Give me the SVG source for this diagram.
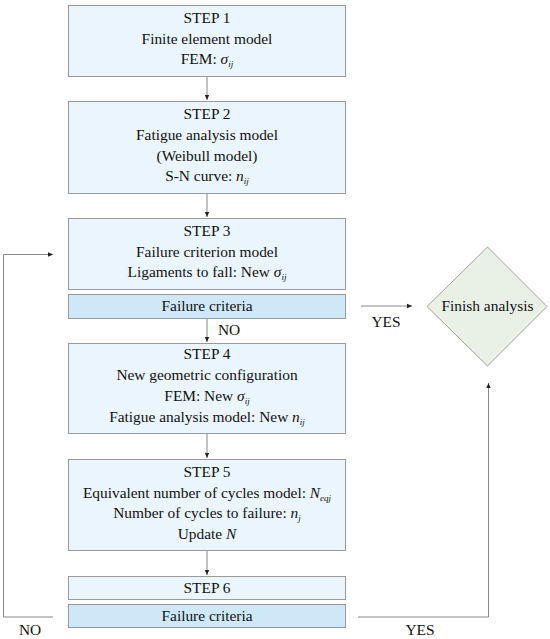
<svg xmlns="http://www.w3.org/2000/svg" width="550" height="639" viewBox="0 0 550 639">
<style>
text{font-family:"Liberation Serif","Times New Roman",serif;font-size:15.4px;fill:#111;text-anchor:middle}
.step{fill:#ebf5fd;stroke:#9a9a9a;stroke-width:1}
.crit{fill:#cfe8f8;stroke:#9a9a9a;stroke-width:1}
.dia{fill:#e9f0e6;stroke:#a0a0a0;stroke-width:1}
.ln{fill:none;stroke:#888;stroke-width:1}
.i{font-style:italic}
.sub{font-style:italic;font-size:9px}
</style>
<defs>
<marker id="ah" markerWidth="6" markerHeight="6" refX="5" refY="3" orient="auto" markerUnits="userSpaceOnUse">
<path d="M0,0.8 L5,3 L0,5.2 Z" fill="#222"/>
</marker>
</defs>
<rect width="550" height="639" fill="#fff"/>
<g id="connectors">
<line class="ln" x1="207" y1="76" x2="207" y2="100" marker-end="url(#ah)"/>
<line class="ln" x1="207" y1="193" x2="207" y2="217" marker-end="url(#ah)"/>
<line class="ln" x1="207" y1="318" x2="207" y2="342" marker-end="url(#ah)"/>
<line class="ln" x1="207" y1="433" x2="207" y2="458" marker-end="url(#ah)"/>
<line class="ln" x1="207" y1="550" x2="207" y2="575" marker-end="url(#ah)"/>
<line class="ln" x1="361" y1="306" x2="412" y2="306" marker-end="url(#ah)"/>
<polyline class="ln" points="53,617 3.5,617 3.5,254.5 53,254.5" marker-end="url(#ah)"/>
<polyline class="ln" points="358,617 488.5,617 488.5,383" marker-end="url(#ah)"/>
<text x="229" y="335">NO</text>
<text x="386" y="327">YES</text>
<text x="30" y="635">NO</text>
<text x="420" y="635">YES</text>
</g>
<g id="step1">
<rect class="step" x="68.5" y="5.5" width="277" height="71"/>
<text x="207" y="23">STEP 1</text>
<text x="207" y="44">Finite element model</text>
<text x="207" y="64">FEM: <tspan class="i">σ</tspan><tspan class="sub" dy="3">ij</tspan></text>
</g>
<g id="step2">
<rect class="step" x="68.5" y="101.5" width="277" height="92"/>
<text x="207" y="119">STEP 2</text>
<text x="207" y="140">Fatigue analysis model</text>
<text x="207" y="161">(Weibull model)</text>
<text x="207" y="181">S-N curve: <tspan class="i">n</tspan><tspan class="sub" dy="3">ij</tspan></text>
</g>
<g id="step3">
<rect class="step" x="68.5" y="218.5" width="277" height="71"/>
<text x="207" y="236">STEP 3</text>
<text x="207" y="257">Failure criterion model</text>
<text x="207" y="277">Ligaments to fall: New <tspan class="i">σ</tspan><tspan class="sub" dy="3">ij</tspan></text>
</g>
<g id="criteria1">
<rect class="crit" x="68.5" y="294.5" width="277" height="24"/>
<text x="207" y="311">Failure criteria</text>
</g>
<g id="finish">
<polygon class="dia" points="487.5,247 547,306.5 487.5,366 427,306.5"/>
<text x="487.5" y="311">Finish analysis</text>
</g>
<g id="step4">
<rect class="step" x="68.5" y="343.5" width="277" height="90"/>
<text x="207" y="359">STEP 4</text>
<text x="207" y="380">New geometric configuration</text>
<text x="207" y="401">FEM: New <tspan class="i">σ</tspan><tspan class="sub" dy="3">ij</tspan></text>
<text x="207" y="422">Fatigue analysis model: New <tspan class="i">n</tspan><tspan class="sub" dy="3">ij</tspan></text>
</g>
<g id="step5">
<rect class="step" x="68.5" y="459.5" width="277" height="91"/>
<text x="207" y="477">STEP 5</text>
<text x="207" y="498">Equivalent number of cycles model: <tspan class="i">N</tspan><tspan class="sub" dy="3">eqj</tspan></text>
<text x="207" y="518">Number of cycles to failure: <tspan class="i">n</tspan><tspan class="sub" dy="3">j</tspan></text>
<text x="207" y="539">Update <tspan class="i">N</tspan></text>
</g>
<g id="step6">
<rect class="step" x="68.5" y="576.5" width="277" height="23"/>
<text x="207" y="593">STEP 6</text>
</g>
<g id="criteria2">
<rect class="crit" x="68.5" y="604.5" width="277" height="23"/>
<text x="207" y="621">Failure criteria</text>
</g>
</svg>
